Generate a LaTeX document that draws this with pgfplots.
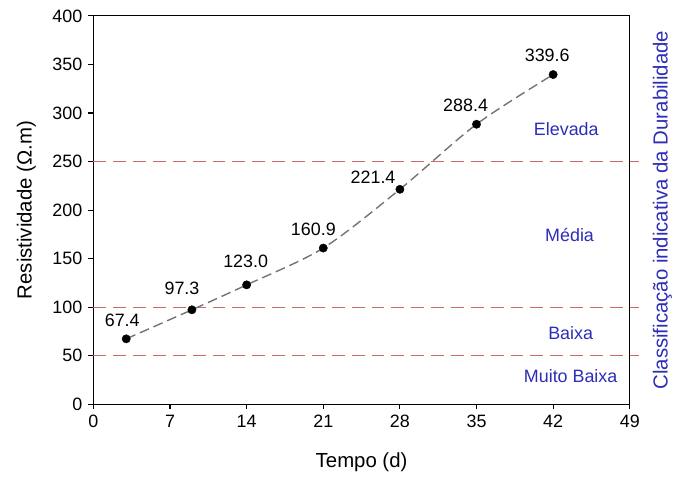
\documentclass[border=0pt]{standalone}
\usepackage{pgfplots}
\pgfplotsset{compat=1.18}
\usepackage{fontspec}
\setmainfont{Liberation Sans}
\definecolor{limitred}{RGB}{205,105,105}
\definecolor{refblue}{RGB}{45,45,185}
\definecolor{refgray}{RGB}{115,115,115}

\begin{document}
\begin{tikzpicture}
\fontsize{18}{21}\selectfont
\path (-94pt,-73pt) rectangle (584pt,407pt);
\begin{axis}[
    at={(0,0)}, anchor=south west,
    scale only axis, width=540pt, height=391pt,
    xmin=0, xmax=49, ymin=0, ymax=400,
    xtick={0,7,...,49}, ytick={0,50,...,400},
    xtick pos=bottom, ytick pos=left, tick align=outside,
    major tick length=5pt,
    axis line style={line width=1.2pt},
    every tick/.style={black, line width=1.1pt},
    /pgf/number format/assume math mode=true,
    ticklabel style={font=\fontsize{18}{21}\selectfont},
    label style={font=\fontsize{20.5}{24}\selectfont},
    xlabel={Tempo (d)},
    ylabel={Resistividade (Ω.m)},
    every axis x label/.append style={at={(axis description cs:0.5,-0.148)}, anchor=center},
    every axis y label/.append style={at={(axis description cs:-0.125,0.5)}, anchor=center, rotate=0},
    clip=false,
]
% classification limits
\addplot[limitred, line width=1.2pt, dash pattern=on 13pt off 7pt] coordinates {(0,250) (49.8,250)};
\addplot[limitred, line width=1.2pt, dash pattern=on 13pt off 7pt] coordinates {(0,100) (49.8,100)};
\addplot[limitred, line width=1.2pt, dash pattern=on 13pt off 7pt] coordinates {(0,50) (49.8,50)};

% fitted trend
\addplot[draw=refgray, line width=1.4pt, dash pattern=on 10pt off 5pt, smooth, tension=0.5] coordinates {
    (3,67.4) (9,97.3) (14,123.0) (21,160.9) (28,221.4) (35,288.4) (42,339.6)
};

% measured points with labels
\addplot[only marks, mark=*, mark size=4.2pt, black,
    visualization depends on={\thisrow{dx}\as\dx},
    visualization depends on={\thisrow{dy}\as\dy},
    point meta=explicit symbolic,
    nodes near coords,
    nodes near coords style={anchor=center, xshift=\dx pt, yshift=\dy pt,
        font=\fontsize{18}{21}\selectfont, text=black}]
table[meta=label] {
    x   y      label  dx   dy
    3   67.4   67.4   -4   19
    9   97.3   97.3   -10  22
    14  123.0  123.0  -1   24
    21  160.9  160.9  -10  19
    28  221.4  221.4  -27  12
    35  288.4  288.4  -11  19
    42  339.6  339.6  -6   19
};

\node[text=refblue, font=\fontsize{18}{21}\selectfont] at (axis cs:43.2,283) {Elevada};
\node[text=refblue, font=\fontsize{18}{21}\selectfont] at (axis cs:43.5,174) {Média};
\node[text=refblue, font=\fontsize{18}{21}\selectfont] at (axis cs:43.6,73) {Baixa};
\node[text=refblue, font=\fontsize{18}{21}\selectfont] at (axis cs:43.6,28.6) {Muito Baixa};
\node[text=refblue, rotate=90, anchor=center, font=\fontsize{20.5}{24}\selectfont]
    at (axis description cs:1.061,0.5) {Classificação indicativa da Durabilidade};
\end{axis}
\end{tikzpicture}
\end{document}
